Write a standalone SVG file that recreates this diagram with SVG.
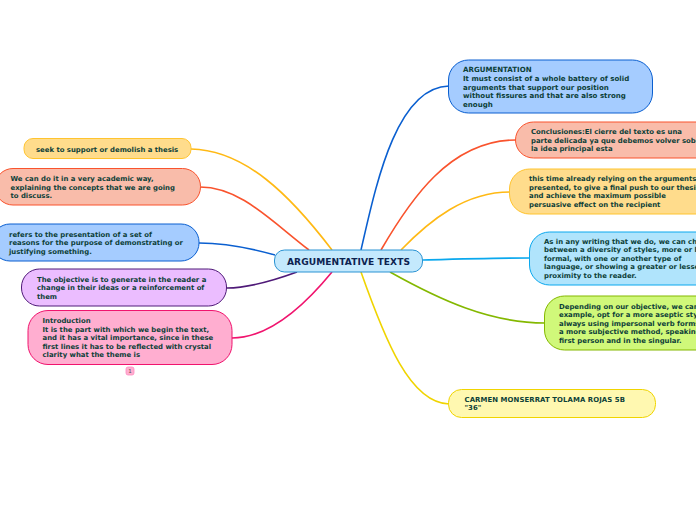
<svg xmlns="http://www.w3.org/2000/svg" width="696" height="520" viewBox="0 0 696 520">
<style>
text{font-family:"DejaVu Sans",Verdana,sans-serif;font-weight:bold;font-size:6.9px;fill:#0c4038}
.w text{font-size:7.05px}
.c{fill:none;stroke-width:1.6}
.n{stroke-width:1}
</style>
<rect width="696" height="520" fill="#fff"/>
<g id="connectors">
<path class="c" stroke="#0a5fd0" d="M361 250C375 190 395 87 449 86"/>
<path class="c" stroke="#f9532d" d="M381 250C410 200 450 140 516 140"/>
<path class="c" stroke="#ffb914" d="M401 250C430 220 465 192 510 192"/>
<path class="c" stroke="#0aa8ee" d="M423 260C460 259 495 258 530 258"/>
<path class="c" stroke="#84b800" d="M390 272C440 300 490 323 545 323"/>
<path class="c" stroke="#f0d400" d="M361 272C385 340 410 403 449 404"/>
<path class="c" stroke="#ffb914" d="M332 250C290 195 245 150 191 149"/>
<path class="c" stroke="#f9532d" d="M309 250C270 220 240 187 200 187"/>
<path class="c" stroke="#0a5fd0" d="M275 255C250 248 225 243 199 243"/>
<path class="c" stroke="#4f1a78" d="M297 272C275 280 250 288 227 288"/>
<path class="c" stroke="#f0146e" d="M332 272C305 305 270 338 232 338"/>
</g>
<g id="n-center"><rect class="n" x="274.500" y="250" width="148" height="22" rx="10" fill="#c4e9fd" stroke="#2a93d3"/><text x="287" y="264.500" style="font-size:9.100px;fill:#0d2350" textLength="123">ARGUMENTATIVE TEXTS</text></g>
<g id="n-argumentation" class="w"><rect class="n" x="448.500" y="60" width="204" height="53" rx="20" fill="#a5ccff" stroke="#0a5fd0"/><text x="463" y="72">ARGUMENTATION</text><text x="463" y="81">It must consist of a whole battery of solid</text><text x="463" y="89.500">arguments that support our position</text><text x="463" y="98">without fissures and that are also strong</text><text x="463" y="106.500">enough</text></g>
<g id="n-conclusiones"><rect class="n" x="515.500" y="122" width="220" height="36" rx="18" fill="#f9bcaa" stroke="#f9532d"/><text x="531" y="134">Conclusiones:El cierre del texto es una</text><text x="531" y="143">parte delicada ya que debemos volver sobre</text><text x="531" y="151">la idea principal esta</text></g>
<g id="n-thistime"><rect class="n" x="509.500" y="169" width="230" height="45" rx="20" fill="#ffdc8c" stroke="#ffc42e"/><text x="529" y="181">this time already relying on the arguments</text><text x="529" y="190">presented, to give a final push to our thesis</text><text x="529" y="198">and achieve the maximum possible</text><text x="529" y="207">persuasive effect on the recipient</text></g>
<g id="n-writing"><rect class="n" x="529.500" y="232" width="220" height="53" rx="20" fill="#b0e4fc" stroke="#0aa8ee"/><text x="544" y="244">As in any writing that we do, we can choose</text><text x="544" y="252">between a diversity of styles, more or less</text><text x="544" y="261">formal, with one or another type of</text><text x="544" y="269">language, or showing a greater or lesser</text><text x="544" y="278">proximity to the reader.</text></g>
<g id="n-depending"><rect class="n" x="544.500" y="296" width="220" height="54" rx="20" fill="#d0f87a" stroke="#84b800"/><text x="559" y="309">Depending on our objective, we can, for</text><text x="559" y="317">example, opt for a more aseptic style,</text><text x="559" y="326">always using impersonal verb forms, or</text><text x="559" y="334">a more subjective method, speaking in</text><text x="559" y="343">first person and in the singular.</text></g>
<g id="n-carmen"><rect class="n" x="448.500" y="389.500" width="207" height="28" rx="13" fill="#fff8b0" stroke="#f0d400"/><text x="464.500" y="402" textLength="160.500">CARMEN MONSERRAT TOLAMA ROJAS 5B</text><text x="464.500" y="410">"36"</text></g>
<g id="n-seek"><rect class="n" x="24" y="138.500" width="167" height="20" rx="9" fill="#ffdc8c" stroke="#ffc42e"/><text x="36" y="151.500">seek to support or demolish a thesis</text></g>
<g id="n-academic"><rect class="n" x="-5" y="168.500" width="205.500" height="36.500" rx="18" fill="#f9bcaa" stroke="#f9532d"/><text x="10.500" y="181">We can do it in a very academic way,</text><text x="10.500" y="190">explaining the concepts that we are going</text><text x="10.500" y="198">to discuss.</text></g>
<g id="n-refers"><rect class="n" x="-8" y="224" width="207" height="37" rx="18" fill="#a5ccff" stroke="#0a5fd0"/><text x="9" y="237">refers to the presentation of a set of</text><text x="9" y="245">reasons for the purpose of demonstrating or</text><text x="9" y="254">justifying something.</text></g>
<g id="n-objective"><rect class="n" x="21.500" y="269" width="205" height="37" rx="18" fill="#ebbdff" stroke="#4f1a78"/><text x="37" y="282">The objective is to generate in the reader a</text><text x="37" y="290">change in their ideas or a reinforcement of</text><text x="37" y="299">them</text></g>
<g id="n-intro"><rect class="n" x="28" y="310.500" width="204" height="54" rx="20" fill="#ffaed0" stroke="#f0146e"/><text x="42.500" y="323">Introduction</text><text x="42.500" y="332">It is the part with which we begin the text,</text><text x="42.500" y="340">and it has a vital importance, since in these</text><text x="42.500" y="349">first lines it has to be reflected with crystal</text><text x="42.500" y="357">clarity what the theme is</text></g>
<g id="n-badge"><rect x="126" y="367" width="8" height="8" rx="2" fill="#ffaed0" stroke="#ff8cc0" stroke-width="0.800"/><text x="130" y="373" text-anchor="middle" style="font-size:5.500px;font-weight:normal;fill:#555">1</text></g>
</svg>
